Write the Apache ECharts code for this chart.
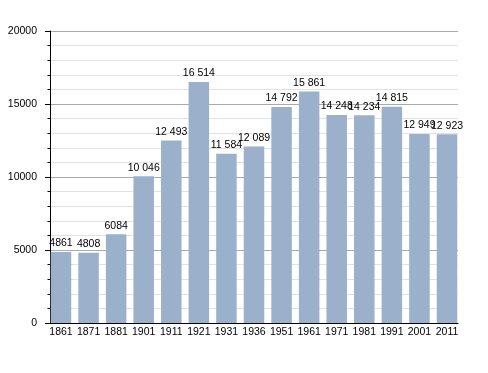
<!DOCTYPE html>
<html><head><meta charset="utf-8">
<script src="https://cdn.jsdelivr.net/npm/echarts@6/dist/echarts.min.js"></script>
<style>html,body{margin:0;padding:0;background:#fff}#c{width:488px;height:373px}</style>
</head><body><div id="c"></div>
<script>
const categories = ['1861','1871','1881','1901','1911','1921','1931','1936','1951','1961','1971','1981','1991','2001','2011'];
const population = [4861,4808,6084,10046,12493,16514,11584,12089,14792,15861,14248,14234,14815,12949,12923];
const yTicks = [0,5000,10000,15000,20000];

function fmt(v){
  const s = String(v);
  return v >= 10000 ? s.slice(0, s.length-3) + ' ' + s.slice(-3) : s;
}
const font = 'Liberation Sans, Arial, sans-serif';
const chart = echarts.init(document.getElementById('c'), null, {renderer:'canvas'});
chart.setOption({
  animation:false,
  backgroundColor:'#fff',
  grid:[
    {left:50, top:31, width:408, height:292, containLabel:false},
    {left:47.2, top:31, width:413.6, height:292, containLabel:false}
  ],
  xAxis:[
    {gridIndex:0, type:'category', data:categories,
      axisLine:{show:true, lineStyle:{color:'#000', width:1}},
      axisTick:{show:false}, axisLabel:{show:false}, splitLine:{show:false}},
    {gridIndex:1, type:'category', data:categories,
      axisLine:{show:false}, axisTick:{show:false},
      axisLabel:{show:true, color:'#000', fontSize:10.5, fontFamily:font, margin:4, interval:0}}
  ],
  yAxis:[
    {gridIndex:0, type:'value', min:yTicks[0], max:yTicks[yTicks.length-1], interval:5000,
      axisLine:{show:true, lineStyle:{color:'#000', width:1}},
      axisTick:{show:true, length:5, lineStyle:{color:'#000'}},
      minorTick:{show:true, splitNumber:5, length:2.5, lineStyle:{color:'#000'}},
      axisLabel:{color:'#000', fontSize:10.5, fontFamily:font, margin:13, formatter:v=>String(v)},
      splitLine:{show:true, lineStyle:{color:'#a9a9a9', width:1}},
      minorSplitLine:{show:true, lineStyle:{color:'#e2e2e2', width:1}}},
    {gridIndex:1, type:'value', min:yTicks[0], max:yTicks[yTicks.length-1], interval:5000, show:false, splitLine:{show:false}}
  ],
  series:[{
    type:'bar', xAxisIndex:1, yAxisIndex:1, data:population,
    barWidth:20.5,
    itemStyle:{color:'#9ab0cb'},
    label:{show:true, position:'top', distance:3, color:'#000', fontSize:10.5, fontFamily:font,
      formatter:p=>fmt(p.value)}
  }]
});
</script></body></html>
